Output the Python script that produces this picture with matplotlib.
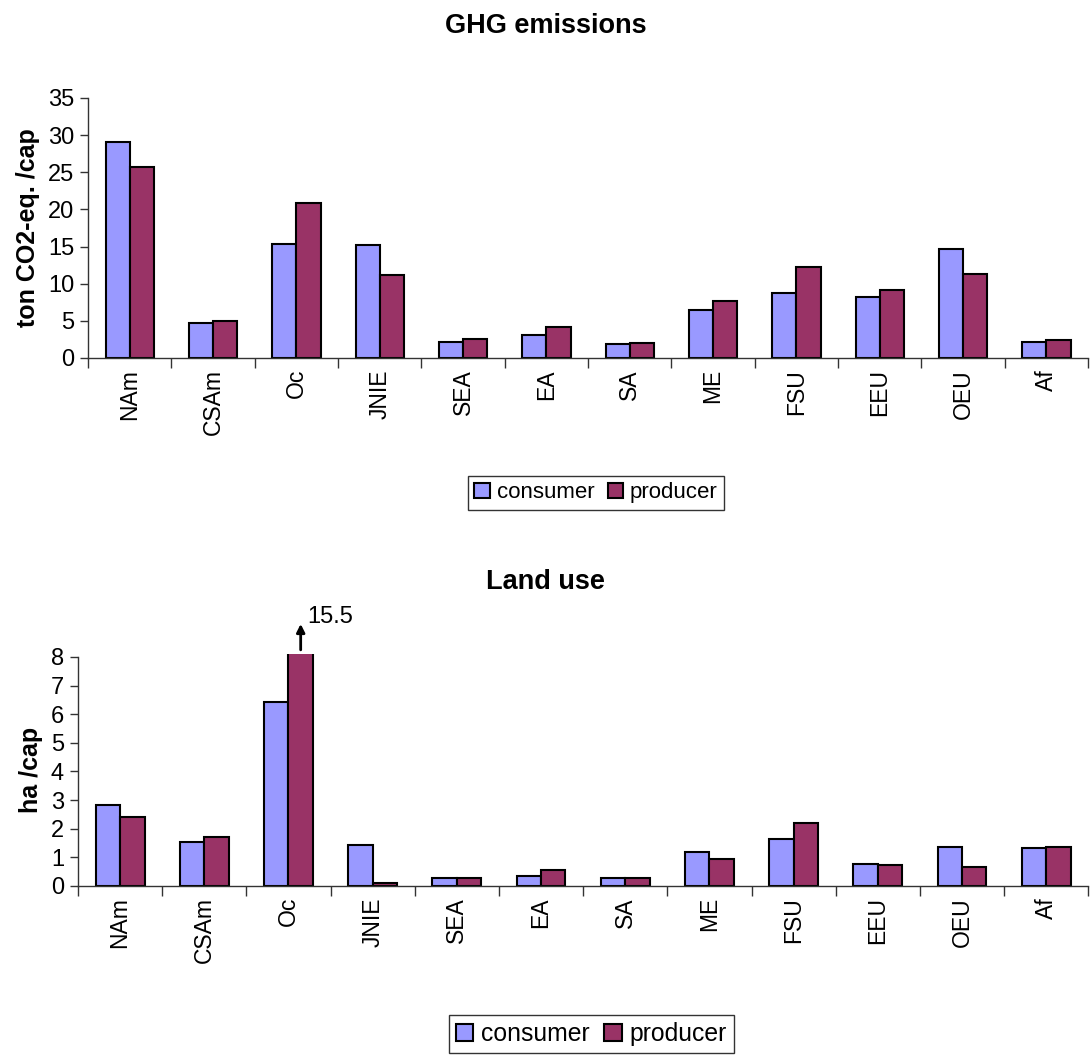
import numpy as np
import matplotlib
matplotlib.use("Agg")
import matplotlib.pyplot as plt

plt.rcParams["font.family"] = ["Liberation Sans", "DejaVu Sans"]

# Регионы и значения
regions = ["NAm", "CSAm", "Oc", "JNIE", "SEA", "EA", "SA", "ME", "FSU", "EEU", "OEU", "Af"]

ghg_consumer = [29.1, 4.7, 15.4, 15.2, 2.1, 3.05, 1.9, 6.4, 8.75, 8.25, 14.6, 2.1]
ghg_producer = [25.75, 4.95, 20.8, 11.1, 2.6, 4.2, 2.05, 7.6, 12.3, 9.2, 11.35, 2.4]

land_consumer = [2.84, 1.54, 6.42, 1.43, 0.29, 0.35, 0.29, 1.17, 1.65, 0.78, 1.37, 1.31]
land_producer = [2.4, 1.7, 15.5, 0.1, 0.29, 0.57, 0.29, 0.94, 2.19, 0.72, 0.67, 1.37]

c_cons = "#9999FF"
c_prod = "#993366"

fig = plt.figure(figsize=(10.91, 10.59), dpi=100)
ax1 = fig.add_axes([0.0807, 0.662, 0.9166, 0.2455])
ax2 = fig.add_axes([0.0715, 0.1634, 0.926, 0.2195])

x = np.arange(len(regions))
w = 0.29


def draw(ax, cons, prod, ymax, yticks, ylabel, title, legend_y, legend_fs, title_y):
    ax.bar(x - w / 2, cons, w, color=c_cons, edgecolor="black", linewidth=1.5, label="consumer")
    ax.bar(x + w / 2, prod, w, color=c_prod, edgecolor="black", linewidth=1.5, label="producer")
    ax.set_xlim(-0.5, len(regions) - 0.5)
    ax.set_ylim(0, ymax)
    ax.set_yticks(yticks)
    ax.spines["left"].set_bounds(0, yticks[-1])
    ax.spines["top"].set_visible(False)
    ax.spines["right"].set_visible(False)
    for s in ("left", "bottom"):
        ax.spines[s].set_color("#333333")
        ax.spines[s].set_linewidth(1.0)
    # метки на границах категорий, подписи по центрам
    ax.set_xticks(np.arange(len(regions) + 1) - 0.5)
    ax.set_xticklabels([])
    ax.set_xticks(x, minor=True)
    ax.set_xticklabels(regions, minor=True, rotation=90, fontsize=16.5)
    ax.tick_params(axis="x", which="major", length=7, width=1, color="#333333")
    ax.tick_params(axis="x", which="minor", length=0, pad=8)
    ax.tick_params(axis="y", length=6, width=1, color="#333333", labelsize=17, pad=4)
    ax.set_ylabel(ylabel, fontsize=18, fontweight="bold", labelpad=6)
    fig.text(0.5, title_y, title, ha="center", va="center", fontsize=19.5, fontweight="bold")
    leg = ax.legend(loc="upper center", bbox_to_anchor=(0.508, legend_y), ncol=2,
                    fontsize=legend_fs, frameon=True, fancybox=False, edgecolor="black",
                    handlelength=0.7, handleheight=0.7, handletextpad=0.3,
                    columnspacing=0.6, borderpad=0.3)
    leg.get_frame().set_linewidth(1.0)
    return ax


draw(ax1, ghg_consumer, ghg_producer, 35, np.arange(0, 36, 5),
     "ton CO2-eq. /cap", "GHG emissions", -0.41, 16, 0.975)
draw(ax2, land_consumer, land_producer, 8.12, np.arange(0, 9, 1),
     "ha /cap", "Land use", -0.5, 17.8, 0.45)

# стрелка для обрезанного столбца Oc
i = regions.index("Oc")
xp = i + w / 2
ax2.annotate("", xy=(xp, 9.25), xytext=(xp, 8.15),
             arrowprops=dict(arrowstyle="-|>", color="black", lw=2, mutation_scale=12),
             annotation_clip=False)
ax2.text(xp + 0.08, 9.4, f"{land_producer[i]}", fontsize=17, ha="left", va="center",
         clip_on=False)

fig.savefig("out.png", dpi=100)
